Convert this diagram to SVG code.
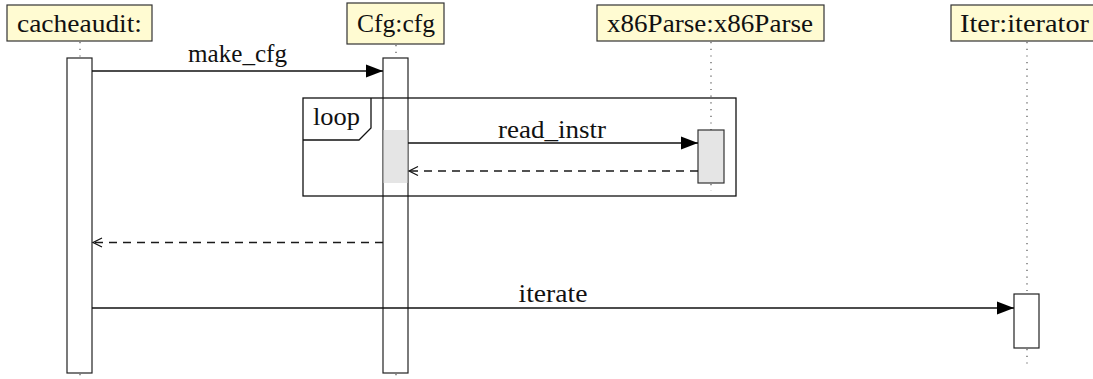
<svg xmlns="http://www.w3.org/2000/svg" width="1093" height="379" viewBox="0 0 1093 379">
  <style>
    .obj { fill: #fffbd2; stroke: #333; stroke-width: 1.2; }
    .lbl { font-family: "Liberation Serif", "Times New Roman", serif; font-size: 25px; fill: #111; }
    .life { stroke: #555; stroke-width: 1.2; stroke-dasharray: 1.2 5.5; fill: none; }
    .act { fill: #fff; stroke: #222; stroke-width: 1.2; }
    .actg { fill: #e5e5e5; stroke: #333; stroke-width: 1.2; }
    .msg { stroke: #111; stroke-width: 1.3; fill: none; }
    .ret { stroke: #1a1a1a; stroke-width: 1.4; fill: none; stroke-dasharray: 8 6; }
    .frame { fill: none; stroke: #111; stroke-width: 1.3; }
  </style>
  <defs>
    <marker id="sync" markerUnits="userSpaceOnUse" markerWidth="18" markerHeight="14" refX="17" refY="7" orient="auto">
      <path d="M0,0.5 L17,7 L0,13.5 Z" fill="#000"/>
    </marker>
    <marker id="open" markerUnits="userSpaceOnUse" markerWidth="12" markerHeight="12" refX="10" refY="6" orient="auto">
      <path d="M1,1.5 L10,6 L1,10.5" fill="none" stroke="#111" stroke-width="1.2"/>
    </marker>
  </defs>

  <g id="lifelines">
    <line class="life" x1="80" y1="42" x2="80" y2="58"/>
    <line class="life" x1="80" y1="374" x2="80" y2="379"/>
    <line class="life" x1="396" y1="45" x2="396" y2="58"/>
    <line class="life" x1="396" y1="374" x2="396" y2="379"/>
    <line class="life" x1="711" y1="42" x2="711" y2="130"/>
    <line class="life" x1="711" y1="184" x2="711" y2="191"/>
    <line class="life" x1="1027" y1="42" x2="1027" y2="294"/>
    <line class="life" x1="1027" y1="349" x2="1027" y2="365"/>
  </g>

  <g id="node-cacheaudit">
    <rect class="obj" x="7" y="5" width="145" height="36"/>
    <text class="lbl" x="79.5" y="32" text-anchor="middle" textLength="125" lengthAdjust="spacingAndGlyphs">cacheaudit:</text>
    <rect class="act" x="67" y="58" width="25" height="315"/>
  </g>

  <g id="node-cfg">
    <rect class="obj" x="347" y="3" width="97" height="41"/>
    <text class="lbl" x="396" y="32" text-anchor="middle" textLength="78" lengthAdjust="spacingAndGlyphs">Cfg:cfg</text>
    <rect class="act" x="383" y="58" width="25" height="315" stroke="#555"/>
    <rect x="383.6" y="130" width="23.8" height="53" fill="#e5e5e5"/>
  </g>

  <g id="node-x86parse">
    <rect class="obj" x="597" y="5" width="227" height="36"/>
    <text class="lbl" x="710" y="32" text-anchor="middle" textLength="206" lengthAdjust="spacingAndGlyphs">x86Parse:x86Parse</text>
    <rect class="actg" x="698" y="130" width="26" height="53"/>
  </g>

  <g id="node-iter">
    <rect class="obj" x="951" y="5" width="152" height="36"/>
    <text class="lbl" x="1024.5" y="32" text-anchor="middle" textLength="129" lengthAdjust="spacingAndGlyphs">Iter:iterator</text>
    <rect class="act" x="1014" y="294" width="25" height="54"/>
  </g>

  <g id="frame-loop">
    <rect class="frame" x="303" y="98" width="433" height="98"/>
    <path class="frame" d="M303,140 L359,140 L371,128 L371,98"/>
    <text class="lbl" x="313" y="125" textLength="47" lengthAdjust="spacingAndGlyphs">loop</text>
  </g>

  <g id="connectors">
    <line class="msg" x1="92" y1="71" x2="383" y2="71" marker-end="url(#sync)"/>
    <text class="lbl" x="237.5" y="62" text-anchor="middle" textLength="99" lengthAdjust="spacingAndGlyphs">make_cfg</text>

    <line class="msg" x1="408" y1="143" x2="698" y2="143" marker-end="url(#sync)"/>
    <text class="lbl" x="552" y="138" text-anchor="middle" textLength="108" lengthAdjust="spacingAndGlyphs">read_instr</text>

    <line class="ret" x1="698" y1="171" x2="409" y2="171" marker-end="url(#open)"/>

    <line class="ret" x1="383" y1="242.5" x2="93" y2="242.5" stroke="#444" marker-end="url(#open)"/>

    <line class="msg" x1="92" y1="308" x2="1014" y2="308" marker-end="url(#sync)"/>
    <text class="lbl" x="553" y="302" text-anchor="middle" textLength="69" lengthAdjust="spacingAndGlyphs">iterate</text>
  </g>
</svg>
